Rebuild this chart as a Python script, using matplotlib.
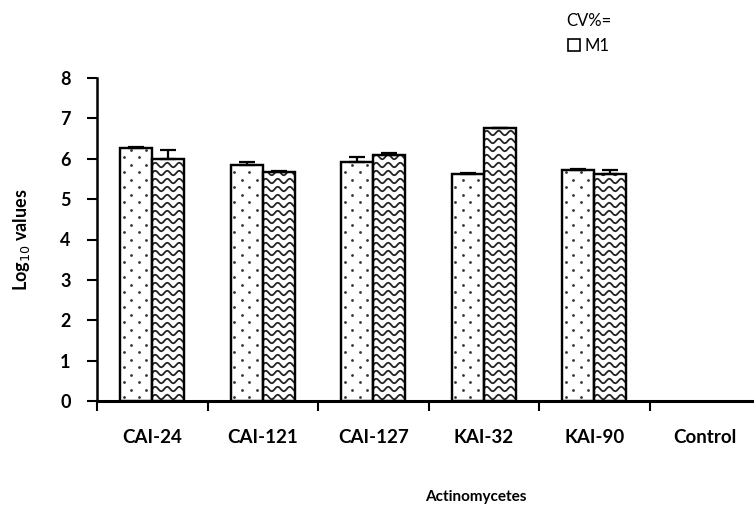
import numpy as np
import matplotlib.pyplot as plt
from matplotlib.patches import Patch

# Data
categories = ['CAI-24', 'CAI-121', 'CAI-127', 'KAI-32', 'KAI-90', 'Control']
dotted_vals = [6.27, 5.85, 5.92, 5.63, 5.72, 0]
dotted_err = [0.02, 0.07, 0.12, 0.02, 0.02, 0]
wavy_vals = [6.0, 5.68, 6.1, 6.75, 5.61, 0]
wavy_err = [0.22, 0.02, 0.05, 0.02, 0.11, 0]
yticks = [0, 1, 2, 3, 4, 5, 6, 7, 8]

plt.rcParams['font.family'] = ['Lato', 'DejaVu Sans']

W, H = 754, 509
fig = plt.figure(figsize=(W / 100, H / 100), dpi=100)
ax = fig.add_axes([97 / W, 108 / H, 663 / W, 323 / H])

x = np.arange(len(categories))
bw = 0.29

# pixel -> data scale (approx) for drawing hatch patterns
px_x = 6 / 663
px_y = 8 / 323


def dot_fill(rect):
    x0, y0 = rect.get_x(), rect.get_y()
    w, h = rect.get_width(), rect.get_height()
    dy = 7.5 * px_y
    dx = 15 * px_x
    row = 0
    yy = y0 + dy / 2
    pts = []
    while yy < y0 + h:
        xx = x0 + (dx / 4 if row % 2 == 0 else dx * 3 / 4)
        while xx < x0 + w:
            pts.append((xx, yy))
            xx += dx
        yy += dy
        row += 1
    if pts:
        pts = np.array(pts)
        sc = ax.scatter(pts[:, 0], pts[:, 1], s=4, color='#333333', zorder=2, linewidths=0)
        sc.set_clip_path(rect)


def wave_fill(rect):
    x0, y0 = rect.get_x(), rect.get_y()
    w, h = rect.get_width(), rect.get_height()
    dy = 8 * px_y
    period = 12 * px_x
    amp = 2.2 * px_y
    xs = np.linspace(x0, x0 + w, 80)
    yy = y0 + dy / 2
    while yy < y0 + h + dy:
        ys = yy + amp * np.sin(2 * np.pi * (xs - x0) / period)
        ln, = ax.plot(xs, ys, color='#222222', lw=1.3, zorder=2)
        ln.set_clip_path(rect)
        yy += dy


for i in range(len(categories)):
    if dotted_vals[i] > 0:
        b = ax.bar(x[i] - bw / 2, dotted_vals[i], bw, color='white', edgecolor='black', lw=1.6, zorder=1)[0]
        dot_fill(b)
        ax.bar(x[i] - bw / 2, dotted_vals[i], bw, color='none', edgecolor='black', lw=1.6, zorder=3)
        ax.errorbar(x[i] - bw / 2, dotted_vals[i], yerr=[[0], [dotted_err[i]]], fmt='none',
                    ecolor='black', elinewidth=1.6, capsize=6, capthick=1.6, zorder=4)
    if wavy_vals[i] > 0:
        b = ax.bar(x[i] + bw / 2, wavy_vals[i], bw, color='white', edgecolor='black', lw=1.6, zorder=1)[0]
        wave_fill(b)
        ax.bar(x[i] + bw / 2, wavy_vals[i], bw, color='none', edgecolor='black', lw=1.6, zorder=3)
        ax.errorbar(x[i] + bw / 2, wavy_vals[i], yerr=[[0], [wavy_err[i]]], fmt='none',
                    ecolor='black', elinewidth=1.6, capsize=6, capthick=1.6, zorder=4)

for s in ['top', 'right']:
    ax.spines[s].set_visible(False)
ax.spines['left'].set_linewidth(1.8)
ax.spines['bottom'].set_linewidth(2.2)

ax.set_xlim(-0.5, len(categories) - 0.5)
ax.set_ylim(0, 8)
ax.set_xticks(np.arange(len(categories)) - 0.5, minor=True)
ax.tick_params(axis='x', which='major', length=0, pad=20)
ax.tick_params(axis='x', which='minor', length=7, width=1.5, direction='out')
ax.tick_params(axis='y', length=7, width=1.5, direction='out', pad=12)
ax.set_yticks(yticks)
ax.set_yticklabels([str(t) for t in yticks], fontsize=13, fontweight='bold')
ax.set_xticks(x)
ax.set_xticklabels(categories, fontsize=13.5, fontweight='bold')

ax.set_ylabel('Log$_{10}$ values', fontsize=13, fontweight='bold', labelpad=20)
fig.text(476 / W, 1 - 497 / H, 'Actinomycetes', fontsize=11, fontweight='bold', ha='center', va='center')

handle = Patch(facecolor='white', edgecolor='black', lw=1.2)
leg = fig.legend([handle], ['M1'], title='CV%=', loc='upper left', bbox_to_anchor=(553 / W, 1.0),
                 frameon=False, fontsize=12, title_fontsize=12, handlelength=0.7, handleheight=0.7,
                 handletextpad=0.3, borderpad=0.3)

fig.savefig('out.png', dpi=100)
